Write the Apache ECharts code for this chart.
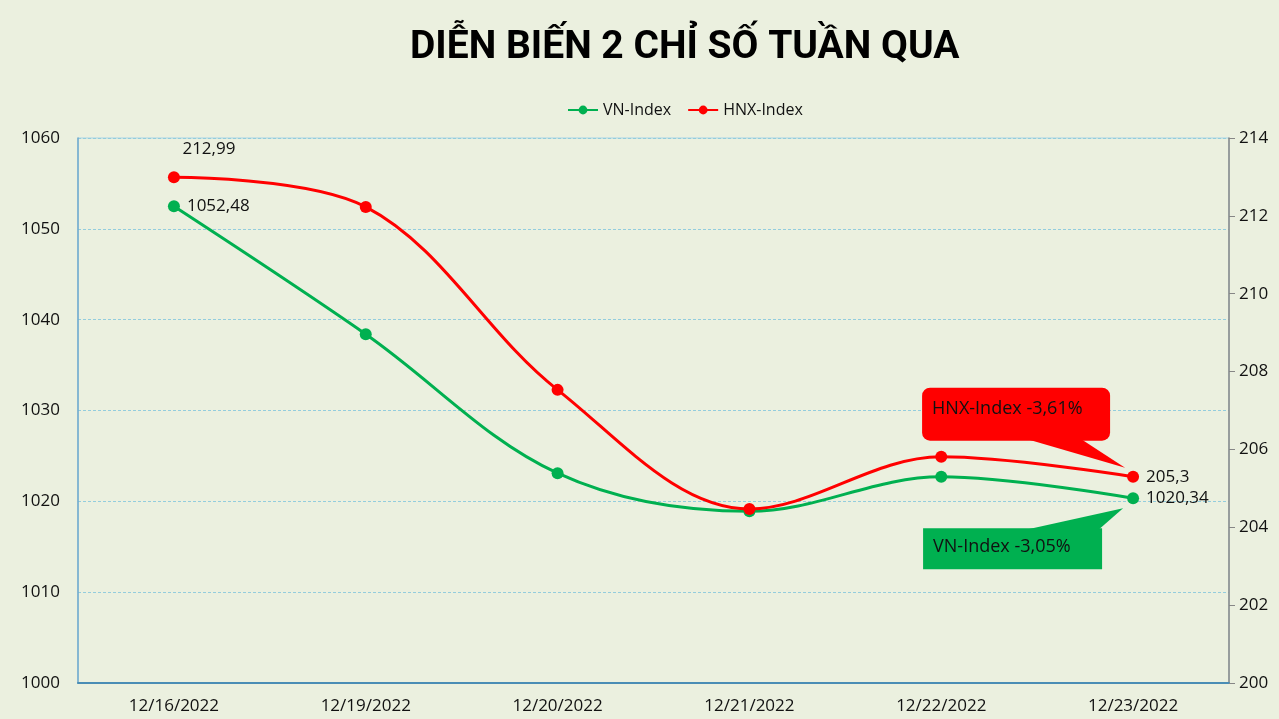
<!DOCTYPE html>
<html>
<head>
<meta charset="utf-8">
<script src="https://cdn.jsdelivr.net/npm/echarts@6/dist/echarts.min.js"></script>
<style>
html,body{margin:0;padding:0;background:#EBF0DF;}
#c{width:1279px;height:719px;}
</style>
</head>
<body>
<div id="c"></div>
<script>
const titleText = 'DIỄN BIẾN 2 CHỈ SỐ TUẦN QUA';
const categories = ['12/16/2022','12/19/2022','12/20/2022','12/21/2022','12/22/2022','12/23/2022'];
const vnIndex = [1052.48, 1038.4, 1023.1, 1018.9, 1022.7, 1020.34];
const hnxIndex = [212.99, 212.23, 207.53, 204.47, 205.81, 205.3];
const leftTicks = {min: 1000, max: 1060, interval: 10};
const rightTicks = {min: 200, max: 214, interval: 2};
const vnNote = 'VN-Index -3,05%';
const hnxNote = 'HNX-Index -3,61%';

const FONT = 'Open Sans';
const GREEN = '#00B050', RED = '#FF0000';
const fmt = v => String(v).replace('.', ',');

function withEndLabels(arr, firstLabel) {
  return arr.map((v, i) => {
    if (i === 0) return {value: v, label: Object.assign({show: true}, firstLabel)};
    if (i === arr.length - 1) return {value: v, label: {show: true, position: 'right', distance: 7}};
    return v;
  });
}

const chart = echarts.init(document.getElementById('c'));
chart.setOption({
  backgroundColor: '#EBF0DF',
  animation: false,
  textStyle: {fontFamily: FONT},
  title: {
    text: titleText, left: 405, top: 24,
    textStyle: {fontFamily: 'Roboto', fontWeight: 'bold', fontSize: 39, color: '#000'}
  },
  legend: {
    top: 97, left: 562, itemWidth: 30, itemHeight: 11, itemGap: 16,
    textStyle: {fontFamily: FONT, fontSize: 16, color: '#111'},
    data: ['VN-Index', 'HNX-Index']
  },
  grid: {
    left: 78, right: 50, top: 138, bottom: 36, containLabel: false,
    show: true, borderColor: '#A8D4E6', borderWidth: 1, backgroundColor: 'transparent'
  },
  xAxis: {
    type: 'category', data: categories, boundaryGap: true,
    axisLine: {lineStyle: {color: '#4A8DB5', width: 2}},
    axisTick: {show: false},
    axisLabel: {color: '#111', fontSize: 17, margin: 15, fontFamily: FONT}
  },
  yAxis: [
    {
      type: 'value', min: leftTicks.min, max: leftTicks.max, interval: leftTicks.interval,
      position: 'left',
      axisLine: {show: true, lineStyle: {color: '#6FA8CC', width: 1.5}},
      axisTick: {show: false},
      axisLabel: {color: '#111', fontSize: 17, margin: 18, fontFamily: FONT, formatter: v => String(v)},
      splitLine: {show: true, lineStyle: {color: '#93CDDD', type: [3, 2], width: 1}}
    },
    {
      type: 'value', min: rightTicks.min, max: rightTicks.max, interval: rightTicks.interval,
      position: 'right',
      axisLine: {show: true, lineStyle: {color: '#868686', width: 1.5}},
      axisTick: {show: true, length: 6, lineStyle: {color: '#868686'}},
      axisLabel: {color: '#111', fontSize: 17, margin: 10, fontFamily: FONT, formatter: v => String(v)},
      splitLine: {show: false}
    }
  ],
  series: [
    {
      name: 'VN-Index', type: 'line', yAxisIndex: 0, smooth: 0.35,
      data: withEndLabels(vnIndex, {position: 'right', distance: 7}),
      symbol: 'circle', symbolSize: 12,
      lineStyle: {color: GREEN, width: 3},
      itemStyle: {color: GREEN},
      label: {formatter: p => fmt(p.value), color: '#111', fontSize: 17, fontFamily: FONT},
      z: 3
    },
    {
      name: 'HNX-Index', type: 'line', yAxisIndex: 1, smooth: 0.35,
      data: withEndLabels(hnxIndex, {position: 'top', distance: 14, offset: [35, 0]}),
      symbol: 'circle', symbolSize: 12,
      lineStyle: {color: RED, width: 3},
      itemStyle: {color: RED},
      label: {formatter: p => fmt(p.value), color: '#111', fontSize: 17, fontFamily: FONT},
      z: 4
    }
  ]
});

// callouts anchored to the last data points
const last = categories.length - 1;
const pH = chart.convertToPixel({xAxisIndex: 0, yAxisIndex: 1}, [last, hnxIndex[last]]);
const pV = chart.convertToPixel({xAxisIndex: 0, yAxisIndex: 0}, [last, vnIndex[last]]);
chart.setOption({
  graphic: [
    {
      type: 'group', z: 100,
      children: [
        {type: 'rect', shape: {x: pH[0] - 211, y: pH[1] - 89, width: 188, height: 53, r: 8},
         style: {fill: RED}},
        {type: 'polygon', shape: {points: [[pH[0] - 104, pH[1] - 37], [pH[0] - 51, pH[1] - 37], [pH[0] - 8, pH[1] - 9]]},
         style: {fill: RED}},
        {type: 'text', x: pH[0] - 201, y: pH[1] - 68,
         style: {text: hnxNote, fill: '#111', font: '18px "Open Sans"', textVerticalAlign: 'middle'}},
        {type: 'rect', shape: {x: pV[0] - 210, y: pV[1] + 30, width: 179, height: 41},
         style: {fill: GREEN}},
        {type: 'polygon', shape: {points: [[pV[0] - 105, pV[1] + 31], [pV[0] - 34, pV[1] + 31], [pV[0] - 10, pV[1] + 10]]},
         style: {fill: GREEN}},
        {type: 'text', x: pV[0] - 200, y: pV[1] + 49,
         style: {text: vnNote, fill: '#111', font: '18px "Open Sans"', textVerticalAlign: 'middle'}}
      ]
    }
  ]
});
</script>
</body>
</html>
